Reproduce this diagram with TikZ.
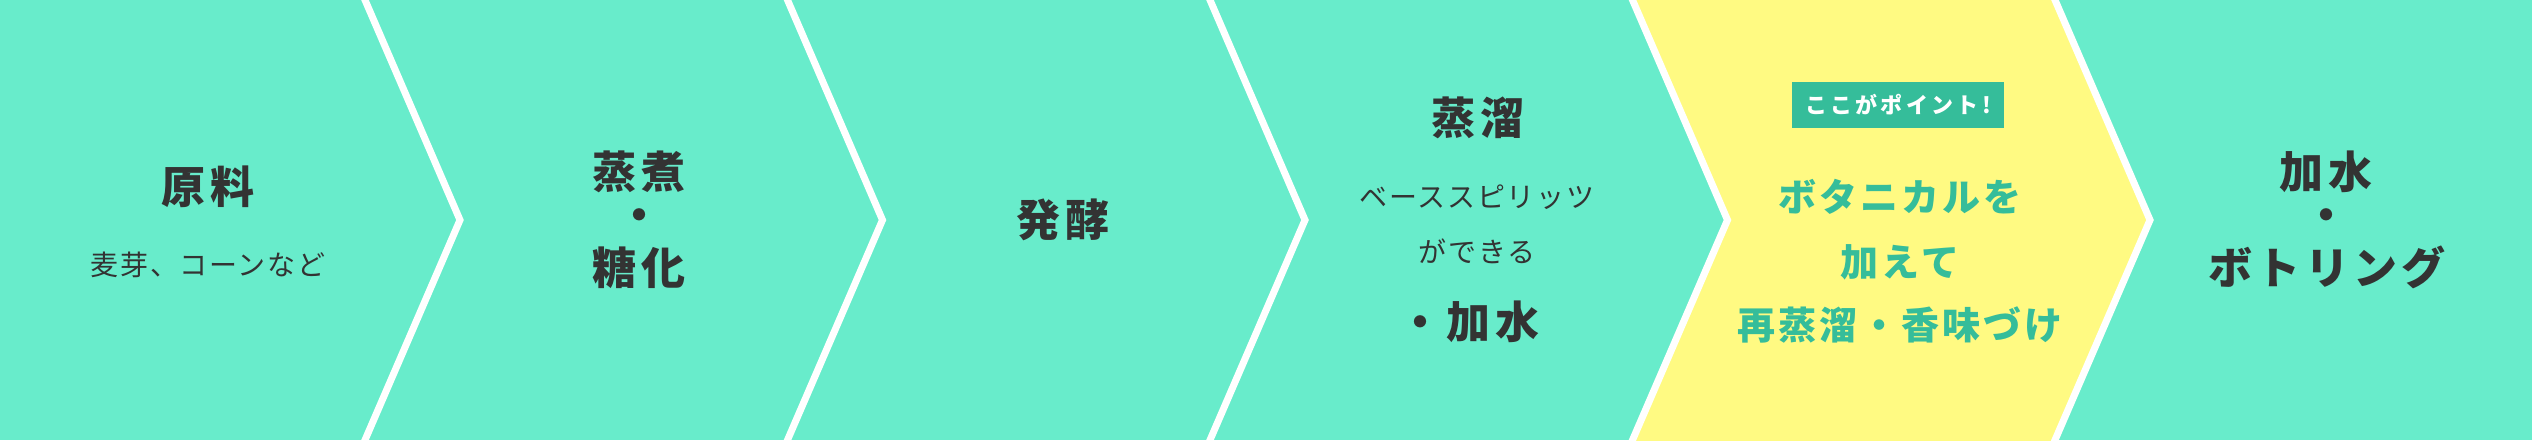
\documentclass[tikz,border=0pt]{standalone}
\usepackage{fontspec}
\setmainfont{Noto Sans CJK JP}
\definecolor{mint}{HTML}{68ECCB}
\definecolor{lemon}{HTML}{FFFA82}
\definecolor{leaf}{HTML}{35BD9A}
\definecolor{ink}{HTML}{333333}

\begin{document}
\begin{tikzpicture}[x=1pt,y=-1pt,
  title/.style={inner sep=0pt, text=ink, font=\fontsize{44}{48}\selectfont\bfseries\addfontfeature{LetterSpace=10}},
  note/.style={inner sep=0pt, text=ink, font=\fontsize{28}{32}\selectfont\addfontfeature{LetterSpace=6}},
  hilite/.style={inner sep=0pt, text=leaf, font=\fontsize{38}{42}\selectfont\bfseries\addfontfeature{LetterSpace=8}},
  badge/.style={inner sep=0pt, fill=leaf, text=white, minimum width=212pt, minimum height=46pt,
    font=\fontsize{22}{24}\selectfont\bfseries\addfontfeature{LetterSpace=15}},
  sep/.style={draw=white, line width=7pt, line join=miter}]
\def \dx{422.5};
\def \xs{365};
\def \tip{95};
\useasboundingbox (0,0) rectangle (2532,440);
\clip (0,0) rectangle (2532,440);
\fill[mint] (0,0) rectangle (2532,440);
% highlighted step
\fill[lemon] (\xs+3*\dx-4.3,-10) -- (\xs+3*\dx+\tip,220) -- (\xs+3*\dx-4.3,450)
  -- (\xs+4*\dx-4.3,450) -- (\xs+4*\dx+\tip,220) -- (\xs+4*\dx-4.3,-10) -- cycle;
\foreach \i in {0,...,4} {
    \draw[sep] (\xs+\i*\dx-4.3,-10) -- (\xs+\i*\dx+\tip,220) -- (\xs+\i*\dx-4.3,450);
}
% step 1
\node[title] (genryo) at (208,187) {原料};
\node[note] (genryoNote) at (208,265) {麦芽、コーンなど};
% step 2
\node[title] (joshaTop) at (639,172) {蒸煮};
\node[title] (joshaDot) at (639,220) {・};
\node[title] (joshaBot) at (639,268) {糖化};
% step 3
\node[title] (hakko) at (1063,220) {発酵};
% step 4
\node[title] (joryu) at (1478,118) {蒸溜};
\node[note] (joryuNoteA) at (1477,197) {ベーススピリッツ};
\node[note] (joryuNoteB) at (1477,251) {ができる};
\node[title] (kasuiA) at (1469,322) {・加水};
% step 5
\node[badge] (point) at (1898,105) {ここがポイント!};
\node[hilite] (botaA) at (1900,197) {ボタニカルを};
\node[hilite] (botaB) at (1900,262) {加えて};
\node[hilite] (botaC) at (1900,325) {再蒸溜・香味づけ};
% step 6
\node[title] (kasuiB) at (2326,172) {加水};
\node[title] (bottleDot) at (2326,220) {・};
\node[title] (bottle) at (2327,267) {ボトリング};
\end{tikzpicture}
\end{document}
